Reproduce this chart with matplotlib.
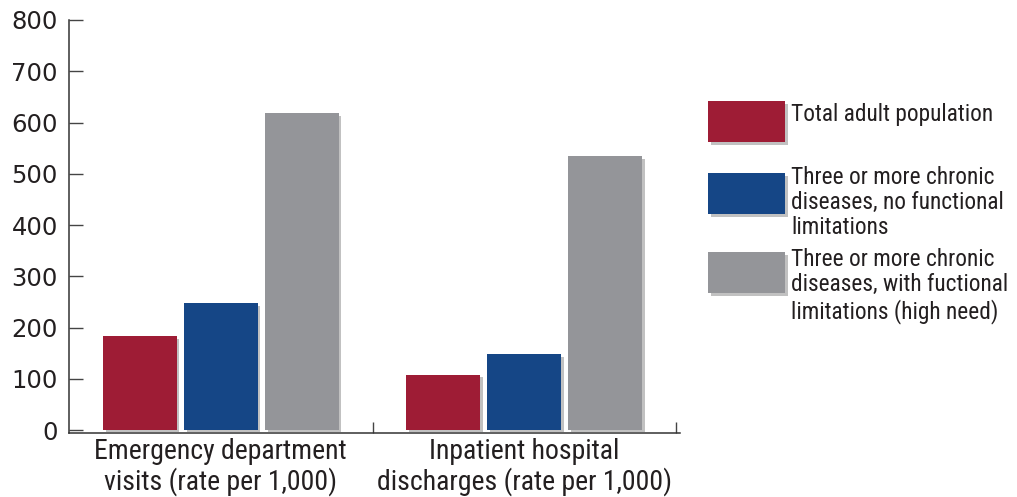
import matplotlib
matplotlib.use("Agg")
import matplotlib.pyplot as plt
import matplotlib.patheffects as pe
import matplotlib.transforms as mtransforms
from matplotlib.patches import Rectangle
import numpy as np

categories = ["Emergency department\nvisits (rate per 1,000)",
              "Inpatient hospital\ndischarges (rate per 1,000)"]
series_names = ["Total adult population",
                "Three or more chronic\ndiseases, no functional\nlimitations",
                "Three or more chronic\ndiseases, with fuctional\nlimitations (high need)"]
total_adult = [183, 108]
chronic_no_limit = [248, 148]
chronic_high_need = [619, 535]
yticks = [0, 100, 200, 300, 400, 500, 600, 700, 800]

colors = ["#9E1C35", "#154686", "#949599"]
series = [total_adult, chronic_no_limit, chronic_high_need]

FONT = ["Roboto Condensed", "Liberation Sans Narrow", "DejaVu Sans Condensed", "DejaVu Sans"]
plt.rcParams["font.family"] = FONT
textc = "#231F20"

W, H = 1017, 497
fig = plt.figure(figsize=(W / 100, H / 100), dpi=100)
ax = fig.add_axes([69 / W, (H - 432.6) / H, (680 - 69) / W, (432.6 - 20) / H])

# overlay axes in pixel coordinates (y down) for legend/labels placement
lax = fig.add_axes([0, 0, 1, 1])
lax.set_xlim(0, W)
lax.set_ylim(H, 0)
lax.axis("off")

x = np.arange(len(categories))
bw = 0.243
step = 0.267
shadow = [pe.SimplePatchShadow(offset=(2, -2), shadow_rgbFace="#666666", alpha=0.4), pe.Normal()]
for i, (vals, c) in enumerate(zip(series, colors)):
    bars = ax.bar(x + (i - 1) * step, vals, width=bw, color=c, zorder=3)
    for b in bars:
        b.set_path_effects(shadow)

ax.set_xlim(-0.5, 1.513)
ax.set_ylim(-5, 800)
ax.set_yticks(yticks)
ax.set_yticklabels([str(v) for v in yticks], fontsize=17.5, color=textc,
                   family=["DejaVu Sans"])
ax.tick_params(axis="y", direction="in", length=10, width=1, color="#444444", pad=8)

ax.set_xticks([0.5, 1.5])
ax.set_xticklabels(["", ""])
ax.tick_params(axis="x", which="major", direction="in", length=8, width=1, color="#444444")

for s in ["top", "right"]:
    ax.spines[s].set_visible(False)
for s in ["left", "bottom"]:
    ax.spines[s].set_color("#333333")
    ax.spines[s].set_linewidth(1.1)

# category labels: x from data, y in pixels (baseline of last line)
trans = mtransforms.blended_transform_factory(ax.transData, lax.transData)
for xi, cat in zip(x, categories):
    ax.text(xi, 490, cat, transform=trans, ha="center", va="baseline",
            fontsize=20, color=textc, linespacing=1.12, clip_on=False)

# legend drawn in pixel coordinates
box_tops = [101, 173, 252]
text_last_base = [121, 234, 318]
for name, c, top, yb in zip(series_names, colors, box_tops, text_last_base):
    r = Rectangle((708, top), 77, 41, facecolor=c, edgecolor="none")
    r.set_path_effects(shadow)
    lax.add_patch(r)
    lax.text(791, yb, name, fontsize=16.8, color=textc, va="baseline", ha="left",
             linespacing=1.12)

fig.savefig("out.png", dpi=100)
